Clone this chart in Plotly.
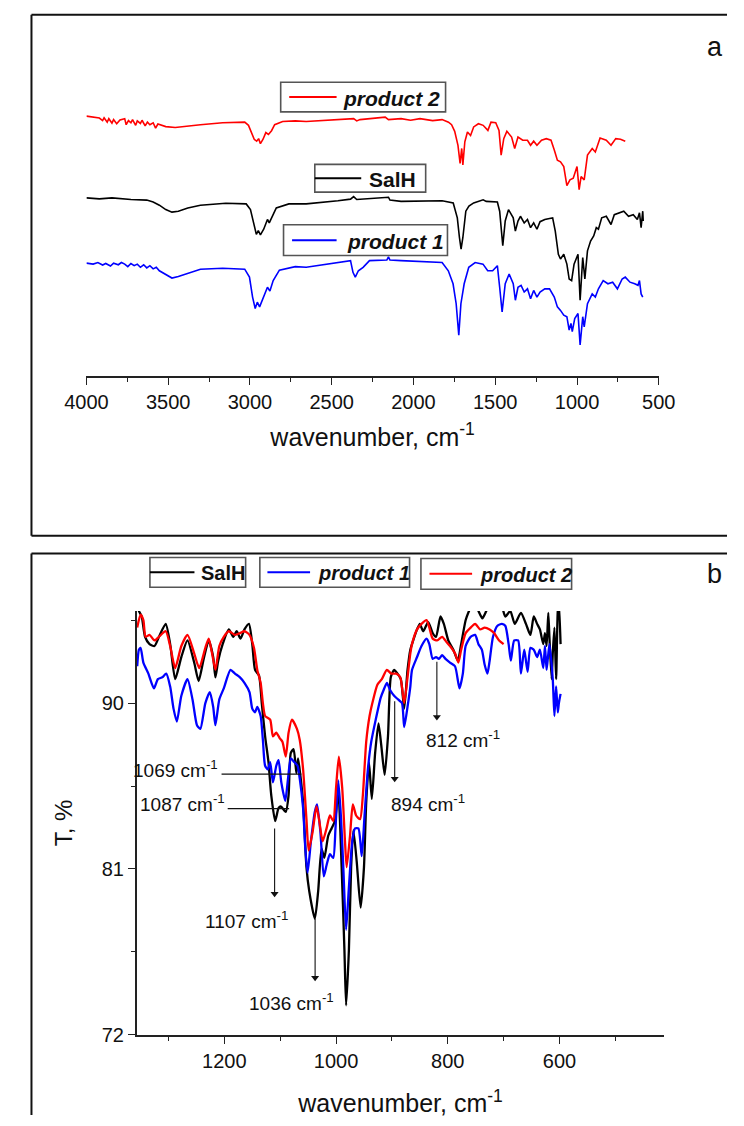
import plotly.graph_objects as go

# ---------------- Panel a : full FTIR spectra (stacked, arbitrary units) ----------------
wn_a_p2 = [4000, 3959, 3921, 3901, 3892, 3873, 3863, 3844, 3834, 3815,
           3795, 3766, 3757, 3743, 3728, 3718, 3699, 3689, 3670, 3660,
           3641, 3627, 3612, 3592, 3577, 3563, 3544, 3515, 3457, 3399,
           3303, 3167, 3032, 3009, 2994, 2974, 2959, 2947, 2936, 2920,
           2903, 2887, 2868, 2849, 2800, 2723, 2656, 2462, 2366, 2347,
           2327, 2173, 2153, 2076, 2018, 1960, 1883, 1825, 1786, 1767,
           1748, 1728, 1715, 1705, 1698, 1686, 1670, 1651, 1632, 1603,
           1574, 1545, 1526, 1497, 1477, 1464, 1448, 1429, 1400, 1381,
           1361, 1332, 1303, 1284, 1265, 1245, 1217, 1188, 1159, 1139,
           1120, 1101, 1081, 1062, 1043, 1023, 1000, 987, 975, 956,
           936, 907, 888, 859, 821, 792, 763, 734, 705]
t_a_p2 = [82.1, 81.8, 81.5, 80.7, 81.6, 80.2, 81.3, 79.9, 81.0, 79.7,
          80.9, 81.3, 79.4, 80.7, 80.0, 81.0, 79.2, 80.6, 79.8, 80.8,
          79.0, 80.2, 79.4, 80.0, 78.3, 79.6, 79.2, 78.8, 78.5, 78.9,
          79.4, 80.0, 80.2, 79.2, 77.1, 74.8, 74.2, 75.0, 73.4, 74.8,
          76.9, 76.3, 77.5, 79.4, 80.4, 80.6, 80.4, 80.9, 81.3, 80.6,
          81.0, 81.8, 81.0, 81.3, 80.8, 81.3, 80.7, 81.0, 80.2, 79.4,
          77.3, 72.9, 67.2, 71.9, 66.7, 74.0, 77.1, 76.0, 78.7, 79.7,
          79.2, 77.6, 80.2, 80.0, 77.6, 69.8, 75.0, 77.3, 75.5, 71.9,
          75.5, 74.5, 74.5, 72.9, 74.2, 72.9, 74.5, 75.0, 74.5, 71.4,
          68.2, 67.7, 66.2, 60.2, 62.0, 62.5, 66.2, 58.9, 63.0, 62.0,
          69.8, 71.9, 70.8, 75.2, 74.5, 72.9, 75.0, 74.8, 74.2]

wn_a_salh = [4000, 3921, 3844, 3786, 3728, 3631, 3592, 3554, 3515, 3477,
             3438, 3380, 3303, 3148, 3023, 2997, 2978, 2961, 2949, 2936,
             2916, 2893, 2882, 2868, 2839, 2762, 2656, 2462, 2385, 2366,
             2347, 2153, 2144, 2076, 1825, 1757, 1732, 1719, 1709, 1698,
             1680, 1661, 1632, 1574, 1555, 1487, 1473, 1454, 1439, 1419,
             1390, 1377, 1361, 1346, 1323, 1303, 1284, 1265, 1245, 1226,
             1197, 1168, 1149, 1133, 1114, 1101, 1081, 1062, 1048, 1033,
             1018, 994, 981, 965, 952, 936, 917, 898, 882, 869,
             849, 821, 792, 772, 743, 714, 685, 656, 631, 618,
             608, 598, 595]
t_a_salh = [56.3, 56.0, 56.3, 56.0, 55.8, 55.6, 55.0, 54.0, 52.6, 51.8,
            52.1, 53.1, 54.0, 54.6, 54.4, 52.6, 47.9, 44.8, 46.0, 44.6,
            46.4, 49.5, 48.4, 50.0, 53.1, 54.4, 54.4, 55.4, 55.9, 56.7,
            55.8, 56.5, 55.6, 55.2, 55.4, 54.7, 50.0, 43.8, 40.1, 43.8,
            52.1, 53.7, 54.7, 55.7, 55.2, 55.0, 52.1, 41.2, 49.0, 52.6,
            50.0, 45.8, 49.0, 50.5, 48.4, 49.5, 46.9, 48.4, 46.4, 48.8,
            49.5, 49.8, 50.0, 45.8, 38.5, 37.0, 38.5, 35.4, 30.7, 30.2,
            35.4, 38.5, 24.0, 37.5, 30.7, 39.6, 42.7, 44.3, 46.9, 46.4,
            50.0, 50.5, 47.9, 51.0, 51.6, 52.1, 50.5, 51.0, 49.5, 51.6,
            46.9, 52.1, 49.0]

wn_a_p1 = [4000, 3959, 3930, 3901, 3882, 3853, 3834, 3805, 3786, 3766,
           3747, 3728, 3708, 3689, 3670, 3650, 3631, 3612, 3592, 3573,
           3554, 3525, 3496, 3477, 3438, 3380, 3303, 3167, 3032, 3003,
           2984, 2968, 2955, 2941, 2916, 2893, 2878, 2858, 2820, 2723,
           2656, 2462, 2385, 2370, 2356, 2337, 2308, 2269, 2163, 2153,
           2144, 2076, 1825, 1787, 1758, 1739, 1723, 1710, 1690, 1662,
           1623, 1575, 1546, 1516, 1487, 1473, 1458, 1439, 1415, 1390,
           1377, 1361, 1342, 1323, 1303, 1284, 1265, 1245, 1226, 1197,
           1168, 1139, 1120, 1101, 1081, 1062, 1048, 1037, 1029, 1014,
           994, 981, 965, 956, 936, 907, 888, 869, 840, 811,
           782, 753, 724, 705, 676, 647, 627, 618, 608, 598]
t_a_p1 = [35.7, 35.4, 35.9, 35.1, 35.6, 34.8, 35.7, 35.2, 35.9, 35.4,
          34.6, 35.6, 34.9, 35.4, 34.4, 35.2, 34.2, 34.9, 33.9, 34.4,
          33.3, 32.5, 31.5, 31.0, 31.5, 32.5, 33.8, 34.1, 33.8, 31.3,
          25.0, 21.4, 23.4, 21.9, 25.0, 28.1, 26.9, 30.2, 33.5, 34.6,
          34.4, 35.9, 36.5, 32.8, 31.3, 33.3, 34.4, 36.5, 36.7, 37.7,
          36.7, 36.5, 35.9, 33.3, 29.2, 22.9, 13.0, 22.9, 29.2, 34.4,
          35.9, 35.4, 33.3, 33.3, 34.9, 28.1, 20.3, 29.2, 32.3, 29.2,
          24.0, 28.1, 28.7, 26.6, 27.6, 24.5, 27.1, 25.0, 26.6, 27.6,
          27.6, 25.0, 21.9, 20.8, 19.3, 18.8, 14.6, 16.7, 14.1, 18.2,
          19.8, 9.9, 18.8, 15.6, 22.9, 26.0, 25.0, 27.6, 30.2, 29.2,
          29.7, 27.6, 30.7, 31.3, 29.7, 29.2, 28.7, 30.2, 26.0, 25.0]

# ---------------- Panel b : fingerprint region, T % ----------------
wn_b_salh = [1357, 1353, 1348, 1342, 1334, 1325, 1317, 1305, 1297, 1288,
             1277, 1266, 1254, 1246, 1237, 1228, 1220, 1216, 1211, 1203,
             1192, 1184, 1178, 1171, 1164, 1156, 1150, 1145, 1138, 1133,
             1127, 1121, 1116, 1109, 1103, 1099, 1090, 1085, 1081, 1076,
             1071, 1068, 1064, 1059, 1053, 1048, 1038, 1032, 1026, 1021,
             1014, 1008, 1002, 996, 990, 985, 982, 977, 973, 969,
             963, 956, 950, 946, 941, 936, 930, 924, 919, 913,
             907, 902, 896, 890, 884, 878, 872, 867, 864, 855,
             850, 844, 835, 827, 821, 813, 807, 799, 790, 782,
             776, 768, 762, 753, 745, 738, 731, 722, 705, 697,
             688, 680, 669, 660, 652, 646, 640, 635, 629, 626,
             623, 620, 618, 614, 612, 609, 606, 603, 601, 598]
t_b_salh = [95.5, 95.0, 94.7, 93.6, 93.2, 93.1, 93.6, 94.3, 93.2, 91.3,
            92.5, 93.4, 92.2, 91.2, 92.4, 93.4, 92.5, 91.4, 92.3, 93.2,
            94.0, 93.6, 93.9, 93.5, 94.0, 94.3, 93.2, 91.8, 91.5, 90.0,
            88.2, 86.8, 85.0, 83.6, 84.3, 84.4, 84.1, 85.0, 87.3, 87.5,
            86.2, 87.0, 86.1, 84.6, 81.1, 79.8, 78.3, 79.8, 82.1, 81.6,
            82.8, 83.2, 83.6, 85.2, 81.1, 76.6, 73.6, 76.6, 81.1, 83.1,
            81.4, 78.9, 81.1, 84.6, 86.8, 84.8, 87.3, 88.9, 87.7, 86.1,
            88.2, 91.4, 91.8, 91.6, 91.3, 89.7, 91.8, 92.9, 93.2, 94.0,
            94.3, 93.9, 94.4, 93.8, 93.6, 94.7, 94.3, 93.4, 92.9, 92.3,
            93.2, 94.5, 95.0, 95.6, 95.0, 94.6, 95.0, 95.6, 95.4, 94.7,
            95.0, 94.3, 94.9, 94.3, 93.7, 94.7, 94.3, 94.0, 93.2, 93.8,
            93.1, 94.9, 93.6, 91.3, 92.7, 94.1, 91.3, 95.0, 95.4, 93.2]

wn_b_p1 = [1356, 1353, 1350, 1345, 1336, 1326, 1319, 1311, 1304, 1297,
           1291, 1285, 1277, 1266, 1257, 1249, 1243, 1234, 1226, 1220,
           1216, 1209, 1201, 1189, 1181, 1172, 1164, 1155, 1150, 1145,
           1141, 1135, 1131, 1127, 1122, 1118, 1113, 1107, 1103, 1098,
           1091, 1086, 1081, 1075, 1069, 1065, 1059, 1055, 1051, 1045,
           1038, 1034, 1028, 1022, 1017, 1011, 1005, 1001, 996, 991,
           987, 982, 977, 971, 966, 960, 954, 949, 943, 937,
           929, 920, 915, 909, 903, 896, 889, 882, 878, 872,
           867, 864, 855, 847, 838, 833, 827, 821, 816, 810,
           804, 796, 787, 779, 773, 768, 759, 751, 745, 739,
           734, 729, 725, 719, 711, 703, 697, 691, 687, 681,
           674, 669, 663, 657, 652, 646, 640, 635, 629, 626,
           623, 618, 612, 609, 606, 603, 601, 598]
t_b_p1 = [92.0, 92.9, 93.0, 92.2, 91.6, 90.8, 91.3, 91.4, 91.6, 90.9,
          89.7, 89.0, 90.4, 91.3, 90.2, 88.8, 88.6, 90.0, 90.6, 89.8,
          88.8, 90.2, 90.8, 91.8, 91.6, 91.4, 91.1, 90.6, 89.7, 89.5,
          89.8, 89.3, 88.0, 86.6, 86.4, 86.8, 85.7, 86.6, 86.9, 85.7,
          84.7, 85.9, 87.0, 86.8, 86.6, 85.9, 84.3, 82.1, 80.8, 82.5,
          84.1, 84.5, 83.0, 80.6, 81.2, 81.8, 81.6, 83.2, 85.8, 83.7,
          81.1, 77.7, 80.0, 82.5, 83.2, 83.2, 81.7, 83.9, 86.4, 87.9,
          89.1, 90.3, 90.7, 91.1, 90.7, 90.4, 90.2, 90.0, 88.7, 89.8,
          90.9, 91.8, 92.5, 93.1, 93.5, 93.2, 92.4, 92.5, 92.4, 92.6,
          92.4, 92.2, 92.0, 90.8, 91.6, 93.1, 93.6, 93.7, 93.2, 92.9,
          92.1, 91.6, 92.3, 93.6, 94.2, 94.3, 94.2, 93.2, 92.3, 93.4,
          93.4, 91.6, 92.9, 91.7, 93.0, 92.9, 92.5, 92.9, 91.9, 93.1,
          91.8, 93.2, 91.3, 89.3, 90.9, 89.5, 90.0, 90.5]

wn_b_p2 = [1356, 1350, 1345, 1341, 1334, 1325, 1317, 1305, 1297, 1288,
           1277, 1266, 1254, 1245, 1234, 1228, 1222, 1216, 1209, 1201,
           1192, 1181, 1172, 1164, 1155, 1147, 1141, 1135, 1131, 1127,
           1118, 1113, 1107, 1101, 1096, 1090, 1085, 1079, 1070, 1065,
           1059, 1053, 1049, 1042, 1035, 1030, 1024, 1017, 1011, 1005,
           1000, 995, 989, 984, 981, 975, 970, 964, 957, 952,
           946, 940, 935, 926, 918, 909, 901, 892, 885, 878,
           872, 867, 864, 855, 847, 838, 833, 827, 819, 810,
           802, 796, 787, 781, 776, 768, 759, 751, 742, 734,
           725, 717, 708, 700]
t_b_p2 = [94.1, 94.8, 94.5, 93.6, 93.7, 93.4, 93.6, 93.9, 93.1, 91.9,
          93.1, 93.7, 92.7, 91.9, 93.0, 93.5, 92.7, 91.8, 93.1, 93.6,
          93.9, 93.7, 93.8, 93.9, 93.7, 93.0, 91.8, 91.1, 90.0, 89.3,
          89.1, 88.2, 88.4, 88.1, 87.9, 87.1, 88.4, 89.1, 88.6, 88.0,
          86.4, 83.7, 82.0, 83.0, 84.4, 83.6, 82.5, 83.2, 83.9, 83.6,
          85.4, 87.1, 85.4, 82.5, 81.1, 82.8, 84.5, 83.9, 83.7, 85.0,
          87.9, 89.3, 90.0, 91.0, 91.3, 91.8, 91.6, 91.6, 91.4, 90.0,
          91.4, 92.7, 93.2, 94.0, 94.3, 94.5, 94.1, 93.5, 93.4, 93.6,
          93.3, 93.1, 92.7, 92.2, 92.9, 93.8, 94.1, 94.3, 94.0, 94.1,
          94.0, 93.8, 93.4, 93.2]

# peak annotations (panel b)
arrow_labels = ["1107", "1036", "894", "812"]
arrow_wn = [1110, 1037.5, 895, 819.5]
arrow_tail_t = [83.2, 78.3, 90.1, 92.25]
arrow_head_t = [79.45, 74.9, 85.7, 89.05]
arrow_text_wn = [1160, 1080.5, 836, 772]
arrow_text_t = [78.25, 73.8, 84.6, 88.05]

leader_labels = ["1069", "1087"]
leader_start_wn = [1205, 1194]
leader_end_wn = [1062, 1084]
leader_t = [86.15, 84.27]
leader_text_t = [86.4, 84.6]

# ---------------- figure ----------------
W, H = 744, 1126
FONT = "Liberation Sans, Arial, sans-serif"
RED, BLUE, BLACK = "#ff0000", "#0000ff", "#000000"


def px(x):
    return x / W


def py(y):
    return 1 - y / H


fig = go.Figure()
for wn, t, c in [(wn_a_p2, t_a_p2, RED), (wn_a_salh, t_a_salh, BLACK), (wn_a_p1, t_a_p1, BLUE)]:
    fig.add_trace(go.Scatter(x=wn, y=t, mode="lines", line=dict(color=c, width=1.6),
                             xaxis="x", yaxis="y", showlegend=False, hoverinfo="skip"))
for wn, t, c in [(wn_b_salh, t_b_salh, BLACK), (wn_b_p1, t_b_p1, BLUE), (wn_b_p2, t_b_p2, RED)]:
    fig.add_trace(go.Scatter(x=wn, y=t, mode="lines",
                             line=dict(color=c, width=2.3, shape="spline", smoothing=0.6),
                             xaxis="x2", yaxis="y2", showlegend=False, hoverinfo="skip"))

# arrows drawn as line traces with a triangle head
for w, t0, t1 in zip(arrow_wn, arrow_tail_t, arrow_head_t):
    fig.add_trace(go.Scatter(x=[w, w], y=[t0, t1 + 0.2], mode="lines", line=dict(color="#111", width=1.1),
                             xaxis="x2", yaxis="y2", showlegend=False, hoverinfo="skip"))
    fig.add_trace(go.Scatter(x=[w], y=[t1 + 0.2], mode="markers",
                             marker=dict(symbol="triangle-down", size=7, color="#111", line=dict(width=0)),
                             xaxis="x2", yaxis="y2", showlegend=False, hoverinfo="skip"))

axis_common = dict(showline=True, linecolor="#222", linewidth=1.5, showgrid=False, zeroline=False,
                   ticks="outside", ticklen=7, tickwidth=1.3, tickcolor="#222",
                   tickfont=dict(size=20, color="#111", family=FONT))

fig.update_layout(
    width=W, height=H, margin=dict(l=0, r=0, t=0, b=0, pad=0), autosize=False,
    paper_bgcolor="white", plot_bgcolor="white",
    font=dict(family=FONT, color="#111"),
    xaxis=dict(domain=[px(68), px(672)], range=[4000, 500], anchor="y",
               tick0=500, dtick=500,
               minor=dict(dtick=250, ticks="outside", ticklen=4, tickwidth=1.3, tickcolor="#222", showgrid=False),
               title=dict(text="wavenumber, cm<sup>-1</sup>", font=dict(size=25, family=FONT), standoff=16),
               **axis_common),
    yaxis=dict(domain=[py(380), py(60)], range=[0, 100], visible=False, anchor="x"),
    xaxis2=dict(domain=[px(121), px(678)], range=[1357, 412], anchor="y2",
                tick0=0, dtick=200,
                minor=dict(dtick=100, ticks="outside", ticklen=4, tickwidth=1.3, tickcolor="#222", showgrid=False),
                title=dict(text="wavenumber, cm<sup>-1</sup>", font=dict(size=25, family=FONT), standoff=24),
                **axis_common),
    yaxis2=dict(domain=[py(1045), py(617)], range=[72, 95], anchor="x2",
                tick0=72, dtick=9,
                minor=dict(dtick=4.5, ticks="outside", ticklen=4, tickwidth=1.3, tickcolor="#222", showgrid=False),
                title=dict(text="T, %", font=dict(size=24, family=FONT), standoff=22),
                **axis_common),
)

shapes = []
annotations = []

# panel frames (extend past the right edge of the image)
for (x0, y0, x1, y1) in [(10, 15, 744, 15), (10, 15, 10, 541), (10, 541, 744, 541),
                         (10, 559, 744, 559), (10, 559, 10, 1126)]:
    shapes.append(dict(type="line", xref="paper", yref="paper", x0=px(x0), y0=py(y0), x1=px(x1), y1=py(y1),
                       line=dict(color="#111", width=2)))

# legend boxes: (text, colour, box x0, x1, y0, y1, line x0, x1, text x, font size)
legend_boxes = [
    ("<b><i>product 2</i></b>", RED, 273, 447, 83, 113, 282, 332, 337, 21),
    ("<b>SalH</b>", BLACK, 309, 426, 166, 194, 309, 358, 364, 21),
    ("<b><i>product 1</i></b>", BLUE, 276, 449, 227, 258, 285, 332, 341, 21),
    ("<b>SalH</b>", BLACK, 135, 236, 563, 593, 135, 182, 187, 20),
    ("<b><i>product 1</i></b>", BLUE, 251, 409, 563, 593, 259, 304, 310, 20),
    ("<b><i>product 2</i></b>", RED, 421, 580, 564, 595, 430, 475, 481, 20),
]
for text, col, bx0, bx1, by0, by1, lx0, lx1, tx, fs in legend_boxes:
    shapes.append(dict(type="rect", xref="paper", yref="paper", x0=px(bx0), x1=px(bx1), y0=py(by1), y1=py(by0),
                       line=dict(color="#555", width=1.6), fillcolor="rgba(0,0,0,0)"))
    ym = (by0 + by1) / 2
    shapes.append(dict(type="line", xref="paper", yref="paper", x0=px(lx0), x1=px(lx1), y0=py(ym), y1=py(ym),
                       line=dict(color=col, width=2)))
    annotations.append(dict(xref="paper", yref="paper", x=px(tx), y=py(ym + 1), text=text, showarrow=False,
                            xanchor="left", yanchor="middle", font=dict(size=fs, color="#111", family=FONT)))

# panel labels
annotations.append(dict(xref="paper", yref="paper", x=px(731), y=py(47), text="a", showarrow=False,
                        xanchor="center", yanchor="middle", font=dict(size=27, color="#111", family=FONT)))
annotations.append(dict(xref="paper", yref="paper", x=px(731), y=py(580), text="b", showarrow=False,
                        xanchor="center", yanchor="middle", font=dict(size=27, color="#111", family=FONT)))

# leader lines (1069, 1087)
for lab, s, e, t, tt in zip(leader_labels, leader_start_wn, leader_end_wn, leader_t, leader_text_t):
    shapes.append(dict(type="line", xref="x2", yref="y2", x0=s, x1=e, y0=t, y1=t,
                       line=dict(color="#111", width=1.2)))
    annotations.append(dict(xref="x2", yref="y2", x=s + 2, y=tt, text=f"{lab} cm<sup>-1</sup>", showarrow=False,
                            xanchor="right", yanchor="middle", font=dict(size=19, color="#111", family=FONT)))

# arrow labels
for lab, tw, tt in zip(arrow_labels, arrow_text_wn, arrow_text_t):
    annotations.append(dict(xref="x2", yref="y2", x=tw, y=tt, text=f"{lab} cm<sup>-1</sup>", showarrow=False,
                            xanchor="center", yanchor="middle", font=dict(size=19, color="#111", family=FONT)))

fig.update_layout(shapes=shapes, annotations=annotations)
fig.write_html("out.html")
